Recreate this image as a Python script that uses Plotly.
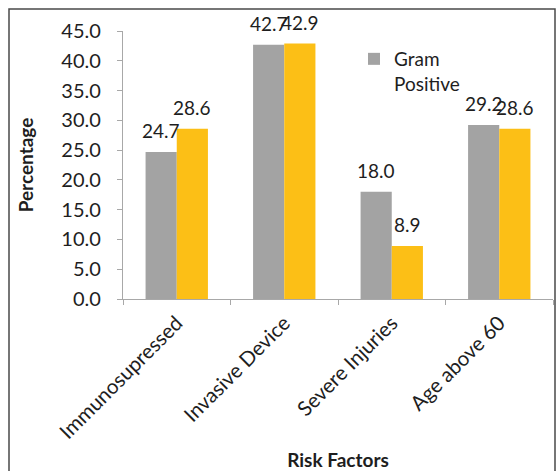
import plotly.graph_objects as go

categories = ["Immunosupressed", "Invasive Device", "Severe Injuries", "Age above 60"]
gram_positive = [24.7, 42.7, 18.0, 29.2]
gram_negative = [28.6, 42.9, 8.9, 28.6]
y_ticks = [0, 5, 10, 15, 20, 25, 30, 35, 40, 45]

GRAY = "#A3A3A3"
YELLOW = "#FCBF16"
FONT = "Lato, 'Open Sans', sans-serif"
TXT = "#1E1E1E"

W, H = 558, 471
L, R, T, B = 123, 5, 31, 172
pw, ph = W - L - R, H - T - B

fig = go.Figure()
fig.add_bar(x=categories, y=gram_positive, name="Gram<br>Positive",
            marker_color=GRAY, marker_line_width=0)
fig.add_bar(x=categories, y=gram_negative, name="Gram Negative",
            marker_color=YELLOW, marker_line_width=0, showlegend=False)

# value labels centred above each bar
bar_px = pw / len(categories) * 0.58 / 2
for vals, shift in ((gram_positive, -bar_px / 2), (gram_negative, bar_px / 2)):
    for c, v in zip(categories, vals):
        fig.add_annotation(x=c, y=v, text=f"{v:.1f}", showarrow=False,
                           xshift=shift, yshift=8, yanchor="bottom",
                           font=dict(family=FONT, size=19, color=TXT))

# outer frame
def px(xp):
    return (xp - L) / pw

def py(yp):
    return (H - B - yp) / ph

fig.add_shape(type="rect", xref="paper", yref="paper",
              x0=px(9), x1=px(555), y0=py(480), y1=py(9),
              line=dict(color="#4A4A4A", width=1.5), fillcolor="rgba(0,0,0,0)")

fig.update_layout(
    width=W, height=H,
    margin=dict(l=L, r=R, t=T, b=B),
    plot_bgcolor="white", paper_bgcolor="white",
    barmode="group", bargap=0.42, bargroupgap=0,
    font=dict(family=FONT, size=19, color=TXT),
    legend=dict(x=px(354), y=py(40), xanchor="left", yanchor="top",
                bgcolor="rgba(0,0,0,0)", font=dict(size=19),
                itemwidth=30, valign="top"),
    xaxis=dict(
        automargin=False,
        showline=True, linecolor="#A8A8A8", linewidth=1.2,
        ticks="outside", ticklen=5, tickcolor="#A8A8A8",
        tickson="boundaries", tickangle=-45,
        tickfont=dict(size=20.5), ticklabelstandoff=3,
        title=dict(text="<b>Risk Factors</b>", font=dict(size=19), standoff=18),
    ),
    yaxis=dict(
        automargin=False,
        range=[0, 45], tickvals=y_ticks, tickformat=".1f",
        showline=True, linecolor="#A8A8A8", linewidth=1.2,
        ticks="outside", ticklen=5, tickcolor="#A8A8A8",
        showgrid=False, zeroline=False,
        tickfont=dict(size=20), ticklabelstandoff=12,
        title=dict(text="<b>Percentage</b>", font=dict(size=19), standoff=22),
    ),
)

fig.write_html("out.html")
